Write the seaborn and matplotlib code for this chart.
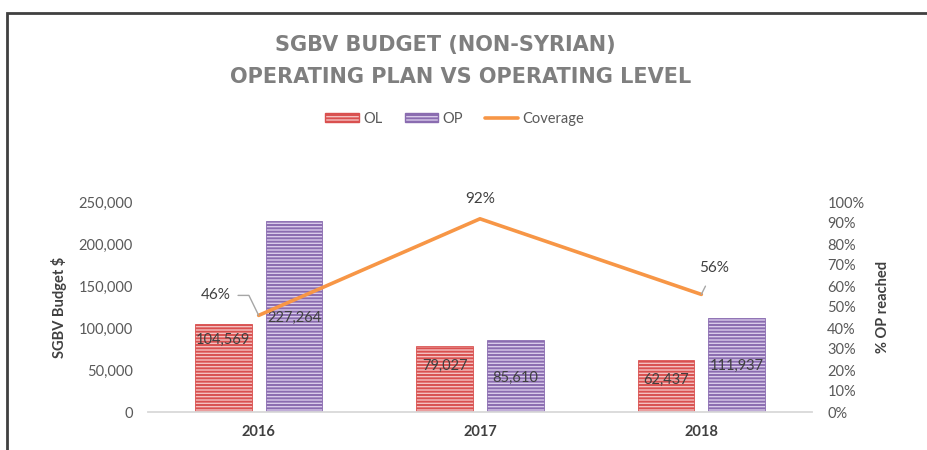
import pandas as pd
import seaborn as sns
from matplotlib import pyplot as plt
from matplotlib.patches import Patch, Rectangle
from matplotlib.lines import Line2D
from matplotlib.ticker import FuncFormatter, PercentFormatter


years = ['2016', '2017', '2018']
ol_values = [104569, 79027, 62437]
op_values = [227264, 85610, 111937]
coverage = [0.46, 0.92, 0.56]
# where Excel put the value labels inside the bars (data units)
ol_label_y = [85700, 54800, 38100]
op_label_y = [111900, 40500, 54800]
# offsets (pixels) of the coverage labels from their points
cov_label_dx = [-43, 0, 13]
cov_label_dy = [20, 20, 26]

red_face, red_line = '#f4c0c0', '#d9504f'
purple_face, purple_line = '#d9cbea', '#8a6cb0'
orange = '#f79646'
text_grey = '#595959'
dark_grey = '#404040'


def style_bars(ax):
    for container, face, line in zip(ax.containers, [red_face, purple_face], [red_line, purple_line]):
        for bar in container:
            bar.set_facecolor(face)
            bar.set_edgecolor(line)
            bar.set_hatch('-----')
            bar.set_linewidth(0.6)
            if hasattr(bar, 'set_hatchcolor'):
                bar.set_hatchcolor(line)


if __name__ == '__main__':
    sns.set_theme(style='white')
    plt.rcParams['font.family'] = ['Lato', 'DejaVu Sans']
    plt.rcParams['hatch.linewidth'] = 1.4

    df = pd.DataFrame({
        'year': years * 2,
        'series': ['OL'] * 3 + ['OP'] * 3,
        'value': ol_values + op_values,
    })

    fig = plt.figure(figsize=(9.28, 4.5), dpi=100)
    ax = fig.add_axes([148 / 928, 1 - 412 / 450, (812 - 148) / 928, 210 / 450])

    sns.barplot(data=df, x='year', y='value', hue='series', palette=[red_line, purple_line],
                width=0.64, gap=0.2, ax=ax, legend=False)
    style_bars(ax)

    ax.set_ylim(0, 250000)
    ax.set_yticks(range(0, 250001, 50000))
    ax.yaxis.set_major_formatter(FuncFormatter(lambda v, p: f'{int(v):,}'))
    ax.tick_params(axis='y', length=0, pad=11, labelsize=10.5, labelcolor=text_grey)
    ax.tick_params(axis='x', length=0, pad=9)
    for lab in ax.get_xticklabels():
        lab.set_fontweight('bold')
        lab.set_fontsize(10.5)
        lab.set_color(dark_grey)
    ax.set_xlabel('')
    ax.set_ylabel('SGBV Budget $', fontsize=10.5, fontweight='bold', color=dark_grey, labelpad=8)

    # value labels inside the bars
    for container, label_y in zip(ax.containers, [ol_label_y, op_label_y]):
        for bar, y in zip(container, label_y):
            ax.text(bar.get_x() + bar.get_width() / 2, y, f'{int(bar.get_height()):,}',
                    ha='center', va='center', fontsize=10.5, color=dark_grey)

    ax2 = ax.twinx()
    sns.lineplot(x=list(range(len(years))), y=coverage, ax=ax2, color=orange, linewidth=2.6)
    ax2.set_ylim(0, 1)
    ax2.set_yticks([i / 10 for i in range(11)])
    ax2.yaxis.set_major_formatter(PercentFormatter(1.0, decimals=0))
    ax2.tick_params(axis='y', length=0, pad=11, labelsize=10.5, labelcolor=text_grey)
    ax2.set_ylabel('% OP reached', fontsize=10.5, fontweight='bold', color=dark_grey, labelpad=8)
    ax.set_xlim(-0.5, 2.5)

    leaders = [
        dict(arrowstyle='-', color='#a6a6a6', lw=1.0, shrinkA=3, shrinkB=0, relpos=(1, 0.5),
             connectionstyle='angle,angleA=0,angleB=116,rad=0'),
        None,
        dict(arrowstyle='-', color='#a6a6a6', lw=1.0, shrinkA=6, shrinkB=0),
    ]
    for i, c in enumerate(coverage):
        ax2.annotate(f'{c:.0%}', xy=(i, c), xytext=(cov_label_dx[i], cov_label_dy[i]),
                     textcoords='offset pixels', ha='center', va='center', fontsize=11,
                     color=dark_grey, annotation_clip=False, arrowprops=leaders[i])

    for a in (ax, ax2):
        for side in ('top', 'left', 'right'):
            a.spines[side].set_visible(False)
    ax.spines['bottom'].set_color('#d9d9d9')
    ax.spines['bottom'].set_linewidth(1.3)
    ax2.spines['bottom'].set_visible(False)

    # title
    fig.text(445 / 928, 1 - 45 / 450, 'SGBV BUDGET (NON-SYRIAN)', ha='center', va='center',
             fontsize=15, fontweight='bold', color='#7f7f7f', family='DejaVu Sans')
    fig.text(461 / 928, 1 - 77 / 450, 'OPERATING PLAN VS OPERATING LEVEL', ha='center', va='center',
             fontsize=15, fontweight='bold', color='#7f7f7f', family='DejaVu Sans')

    handles = [
        Patch(facecolor=red_face, edgecolor=red_line, hatch='-----', label='OL'),
        Patch(facecolor=purple_face, edgecolor=purple_line, hatch='-----', label='OP'),
        Line2D([0], [0], color=orange, lw=2.6, label='Coverage'),
    ]
    leg = fig.legend(handles=handles, loc='center', bbox_to_anchor=(455 / 928, 1 - 119 / 450), ncol=3,
                     frameon=False, fontsize=10.5, handlelength=2.3, handletextpad=0.3,
                     columnspacing=1.5, handleheight=0.6)
    for t in leg.get_texts():
        t.set_color(text_grey)

    # chart frame (cut off at right and bottom like the screenshot)
    fig.add_artist(Rectangle((7 / 928, -0.1), 1.5, 1 - 13 / 450 + 0.1, transform=fig.transFigure,
                             fill=False, edgecolor=dark_grey, linewidth=2))

    fig.savefig('out.png', dpi=100)
